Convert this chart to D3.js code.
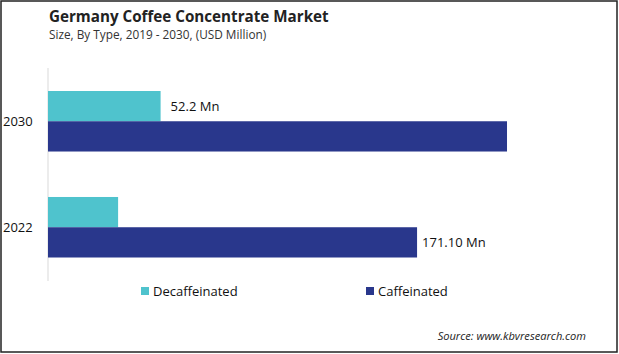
<!DOCTYPE html>
<html>
<head>
<meta charset="utf-8">
<script src="https://cdn.jsdelivr.net/npm/d3@7"></script>
<style>
  body { margin: 0; background: #fff; }
  text { font-family: "Open Sans", "Noto Sans", sans-serif; }
</style>
</head>
<body>
<svg id="chart"></svg>
<script>
const years = ["2030", "2022"];
const types = ["Decaffeinated", "Caffeinated"];
const decafValues = [52.2, 32.5];
const cafValues = [212.8, 171.1];
const barLabels = [
  { year: "2030", type: "Decaffeinated", text: "52.2 Mn", dx: 10 },
  { year: "2022", type: "Caffeinated", text: "171.10 Mn", dx: 5 },
];

const W = 619, H = 354;
const margin = { top: 68, right: 60, bottom: 74, left: 48 };

const svg = d3.select("#chart").attr("width", W).attr("height", H);

svg.append("rect")
  .attr("x", 1).attr("y", 1)
  .attr("width", W - 3).attr("height", H - 3)
  .attr("fill", "#fff")
  .attr("stroke", "#222")
  .attr("stroke-width", 1.5);

const color = d3.scaleOrdinal().domain(types).range(["#4fc3cd", "#29378c"]);

const x = d3.scaleLinear().domain([0, 1]).range([margin.left, margin.left + 2.157]);
const y0 = d3.scaleBand().domain(years).range([91, 257.5]).paddingInner(0.429);
const y1 = d3.scaleBand().domain(types).range([0, y0.bandwidth()]);

const rows = years.map((yr, i) => ({
  year: yr,
  values: [
    { type: "Decaffeinated", value: decafValues[i] },
    { type: "Caffeinated", value: cafValues[i] },
  ],
}));

svg.append("text")
  .attr("x", 49).attr("y", 22)
  .attr("font-size", "15.2px")
  .attr("font-weight", "bold")
  .attr("fill", "#222")
  .text("Germany Coffee Concentrate Market");

svg.append("text")
  .attr("x", 49).attr("y", 39)
  .attr("font-size", "11.8px")
  .attr("fill", "#333")
  .text("Size, By Type, 2019 - 2030, (USD Million)");

// axis line
svg.append("line")
  .attr("x1", margin.left).attr("x2", margin.left)
  .attr("y1", 68).attr("y2", 281)
  .attr("stroke", "#d9d9d9")
  .attr("stroke-width", 1);

const groups = svg.selectAll(".row")
  .data(rows)
  .enter()
  .append("g")
  .attr("class", "row")
  .attr("transform", (d) => `translate(0,${y0(d.year)})`);

groups.selectAll("rect")
  .data((d) => d.values)
  .enter()
  .append("rect")
  .attr("x", x(0))
  .attr("y", (d) => y1(d.type))
  .attr("width", (d) => x(d.value) - x(0))
  .attr("height", y1.bandwidth())
  .attr("fill", (d) => color(d.type));

// year labels
svg.selectAll(".year")
  .data(years)
  .enter()
  .append("text")
  .attr("x", 3)
  .attr("y", (d) => y0(d) + y0.bandwidth() / 2 + 5)
  .attr("font-size", "13px")
  .attr("fill", "#111")
  .text((d) => d);

// value labels
barLabels.forEach((l) => {
  const i = years.indexOf(l.year);
  const v = l.type === "Decaffeinated" ? decafValues[i] : cafValues[i];
  svg.append("text")
    .attr("x", x(v) + l.dx)
    .attr("y", y0(l.year) + y1(l.type) + y1.bandwidth() / 2 + 5)
    .attr("font-size", "13px")
    .attr("fill", "#111")
    .text(l.text);
});

// legend
const legendX = [141, 366];
types.forEach((t, i) => {
  svg.append("rect")
    .attr("x", legendX[i]).attr("y", 287)
    .attr("width", 8).attr("height", 8)
    .attr("fill", color(t));
  svg.append("text")
    .attr("x", legendX[i] + 12).attr("y", 296)
    .attr("font-size", "13px")
    .attr("fill", "#111")
    .text(t);
});

svg.append("text")
  .attr("x", 586).attr("y", 340)
  .attr("text-anchor", "end")
  .attr("font-size", "11.1px")
  .attr("font-style", "italic")
  .attr("fill", "#222")
  .text("Source: www.kbvresearch.com");
</script>
</body>
</html>
